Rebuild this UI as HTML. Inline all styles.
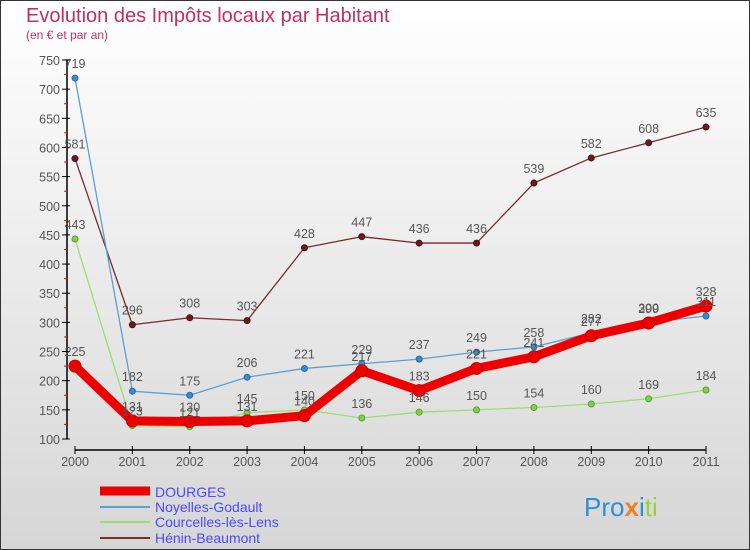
<!DOCTYPE html>
<html><head><meta charset="utf-8"><style>
body{margin:0}
svg{display:block;font-family:"Liberation Sans",sans-serif}
</style></head><body>
<svg id="chart" width="750" height="550">
<defs><linearGradient id="bg" x1="0" y1="0" x2="0" y2="1"><stop offset="0" stop-color="#ffffff"/><stop offset="1" stop-color="#d6d6d6"/></linearGradient></defs>
<rect x="0.5" y="0.5" width="749" height="549" fill="url(#bg)" stroke="#333"/>
<text x="26" y="22" font-size="20" fill="#c0305f">Evolution des Impôts locaux par Habitant</text>
<text x="26" y="39" font-size="12" fill="#c0305f">(en € et par an)</text>
<g id="axes"></g><g id="series"></g><g id="labels"></g>
<g>
<line x1="100" y1="491" x2="150" y2="491" stroke="#ee0000" stroke-width="9"/>
<text x="155" y="497" font-size="14" fill="#4a4aff">DOURGES</text>
<line x1="100" y1="507" x2="150" y2="507" stroke="#5a9fd4" stroke-width="2"/>
<text x="155" y="512" font-size="14" fill="#4a4aff">Noyelles-Godault</text>
<line x1="100" y1="522" x2="150" y2="522" stroke="#99e070" stroke-width="2"/>
<text x="155" y="527" font-size="14" fill="#4a4aff">Courcelles-lès-Lens</text>
<line x1="100" y1="538" x2="150" y2="538" stroke="#7a2a30" stroke-width="2"/>
<text x="155" y="543" font-size="14" fill="#4a4aff">Hénin-Beaumont</text>
</g>
<text x="584" y="516" font-size="26"><tspan fill="#2a8fd8">Pro</tspan><tspan fill="#f08020" font-weight="bold">x</tspan><tspan fill="#2a8fd8">i</tspan><tspan fill="#9ad040">ti</tspan></text>
</svg>
<script>
const years=["2000","2001","2002","2003","2004","2005","2006","2007","2008","2009","2010","2011"];
const dourges=[225,131,130,131,140,217,183,221,241,277,299,328];
const noyelles=[719,182,175,206,221,229,237,249,258,282,300,311];
const courcelles=[443,123,121,145,150,136,146,150,154,160,169,184];
const henin=[581,296,308,303,428,447,436,436,539,582,608,635];
const yTicks=[100,150,200,250,300,350,400,450,500,550,600,650,700,750];
const NS="http://www.w3.org/2000/svg";
const xs=i=>75+i*(706-75)/11;
const ys=v=>439-(v-100)*(379/650);
function mk(tag,attrs,parent){const e=document.createElementNS(NS,tag);for(const k in attrs)e.setAttribute(k,attrs[k]);parent.appendChild(e);return e;}
const ax=document.getElementById('axes');
let yl=mk('line',{x1:67,y1:ys(750),x2:67,y2:ys(100),stroke:'#000','stroke-width':1.5},ax);


yTicks.forEach(v=>{
 const t=mk('line',{x1:62,x2:70,y1:ys(v),y2:ys(v),stroke:'#000'},ax);
 
 
 const l=mk('text',{x:60,y:ys(v)+5,'text-anchor':'end','font-size':12.5,fill:'#555'},ax);l.textContent=v;
 
 
 if(v<750){const m=mk('line',{x1:64,x2:67,y1:ys(v+25),y2:ys(v+25),stroke:'#e00'},ax);
 
 }
});
let xl=mk('line',{x1:xs(0),x2:xs(11),y1:450,y2:450,stroke:'#000','stroke-width':1.5},ax);


years.forEach((y,i)=>{
 const t=mk('line',{x1:xs(i),x2:xs(i),y1:446,y2:454,stroke:'#000'},ax);
 
 
 const l=mk('text',{x:xs(i),y:466,'text-anchor':'middle','font-size':12.5,fill:'#555'},ax);l.textContent=y;
 
 
});
const sg=document.getElementById('series'),lg=document.getElementById('labels');
function series(name,data,color,w,r,fill,stroke){
 const g=mk('g',{},sg);
 
 
 const p=mk('polyline',{points:data.map((v,i)=>xs(i)+','+ys(v)).join(' '),fill:'none',stroke:color,'stroke-width':w,'stroke-linejoin':'round'},g);
 
 
 data.forEach((v,i)=>{
  const c=mk('circle',{cx:xs(i),cy:ys(v),r:r,fill:fill,stroke:stroke,'stroke-width':1},g);
  
  
  const t=mk('text',{x:xs(i),y:ys(v)-10,'text-anchor':'middle','font-size':12.5,fill:'#555'},lg);t.textContent=v;
  
  
 });
}
series('henin',henin,'#7a2a30',1.3,3,'#6a1a22','#4a1015');
series('courcelles',courcelles,'#99e070',1.3,3,'#7ed050','#5aa030');
series('noyelles',noyelles,'#5a9fd4',1.3,3,'#3a8ad0','#2a6aa0');
series('dourges',dourges,'#ee0000',9,6,'#ee0000','#c00000');
</script>
</body></html>
